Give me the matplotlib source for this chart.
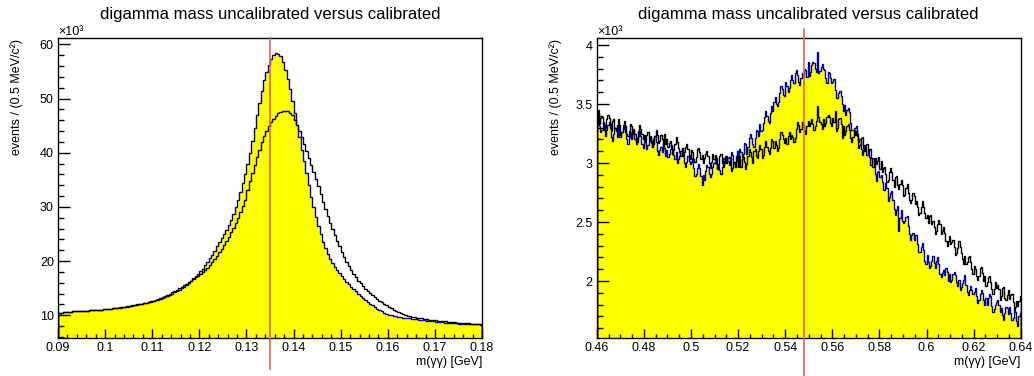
import matplotlib
matplotlib.use('Agg')
import matplotlib.pyplot as plt
from matplotlib.ticker import MultipleLocator, FuncFormatter
import numpy as np

plt.rcParams['font.family'] = ['Liberation Sans', 'DejaVu Sans']

# pi0 region: 0.09 - 0.18 GeV, 0.5 MeV bins, counts in thousands
pi0_lo, pi0_hi = 0.09, 0.18
pi0_calib = [
    10.5, 10.5, 10.55, 10.6, 10.6, 10.65, 10.7, 10.7, 10.75, 10.8,
    10.8, 10.85, 10.85, 10.9, 10.95, 10.95, 11.0, 11.0, 11.05, 11.1,
    11.1, 11.15, 11.2, 11.25, 11.3, 11.35, 11.4, 11.5, 11.55, 11.6,
    11.7, 11.75, 11.85, 11.9, 12.0, 12.1, 12.2, 12.3, 12.4, 12.5,
    12.6, 12.75, 12.9, 13.05, 13.2, 13.35, 13.55, 13.75, 13.95, 14.2,
    14.45, 14.7, 15.0, 15.3, 15.6, 16.0, 16.4, 16.8, 17.2, 17.6,
    18.1, 18.6, 19.2, 19.8, 20.5, 21.2, 21.9, 22.7, 23.6, 24.3,
    25.0, 25.8, 26.6, 27.6, 28.7, 29.9, 31.3, 32.8, 34.4, 36.0,
    38.0, 40.0, 42.2, 44.5, 46.9, 49.2, 51.4, 53.4, 55.0, 56.3,
    57.3, 58.0, 58.4, 58.3, 57.8, 56.8, 55.3, 53.6, 51.7, 49.6,
    47.4, 45.2, 42.9, 40.6, 38.4, 36.2, 34.0, 31.9, 30.0, 28.2,
    26.5, 25.0, 23.6, 22.4, 21.3, 20.4, 19.6, 18.9, 18.3, 17.8,
    17.2, 16.7, 16.2, 15.7, 15.3, 14.8, 14.4, 14.0, 13.6, 13.2,
    12.8, 12.5, 12.1, 11.8, 11.5, 11.2, 11.0, 10.75, 10.5, 10.3,
    10.1, 10.0, 9.9, 9.8, 9.7, 9.65, 9.55, 9.5, 9.45, 9.4,
    9.35, 9.3, 9.25, 9.2, 9.1, 9.05, 9.0, 8.95, 8.9, 8.85,
    8.8, 8.75, 8.75, 8.7, 8.65, 8.6, 8.6, 8.55, 8.5, 8.5,
    8.45, 8.45, 8.4, 8.4, 8.35, 8.35, 8.3, 8.3, 8.3, 8.25,
]
pi0_uncalib = [
    10.5, 10.5, 10.55, 10.6, 10.6, 10.65, 10.7, 10.7, 10.75, 10.8,
    10.8, 10.85, 10.85, 10.9, 10.95, 10.95, 11.0, 11.05, 11.05, 11.1,
    11.15, 11.2, 11.2, 11.25, 11.3, 11.4, 11.45, 11.5, 11.6, 11.65,
    11.7, 11.8, 11.9, 12.0, 12.05, 12.15, 12.25, 12.35, 12.5, 12.6,
    12.7, 12.85, 13.0, 13.2, 13.35, 13.55, 13.75, 13.95, 14.2, 14.45,
    14.7, 14.95, 15.2, 15.5, 15.8, 16.1, 16.4, 16.7, 17.0, 17.3,
    17.6, 18.0, 18.4, 18.8, 19.3, 19.8, 20.4, 21.0, 21.6, 22.3,
    23.0, 23.7, 24.5, 25.3, 26.2, 27.1, 28.0, 29.0, 30.1, 31.3,
    33.2, 34.7, 36.3, 37.8, 39.2, 40.6, 41.9, 43.1, 44.1, 44.9,
    45.6, 46.2, 46.8, 47.3, 47.6, 47.8, 47.8, 47.7, 47.4, 46.9,
    46.0, 45.1, 44.0, 42.9, 41.7, 40.4, 39.1, 37.8, 36.5, 35.1,
    33.8, 32.4, 31.0, 29.7, 28.4, 27.1, 25.9, 24.8, 23.7, 22.7,
    21.7, 20.8, 19.9, 19.1, 18.3, 17.6, 17.0, 16.4, 15.9, 15.4,
    14.9, 14.5, 14.1, 13.7, 13.3, 13.0, 12.7, 12.4, 12.1, 11.8,
    11.5, 11.25, 11.0, 10.8, 10.6, 10.4, 10.2, 10.05, 9.9, 9.8,
    9.7, 9.6, 9.5, 9.45, 9.4, 9.3, 9.25, 9.2, 9.15, 9.1,
    9.05, 9.0, 8.95, 8.9, 8.85, 8.8, 8.75, 8.7, 8.7, 8.65,
    8.6, 8.6, 8.55, 8.5, 8.5, 8.45, 8.45, 8.4, 8.4, 8.4,
]

# eta region: 0.46 - 0.64 GeV, 0.5 MeV bins, counts in thousands
eta_lo, eta_hi = 0.46, 0.64
eta_calib = [
    3.33, 3.37, 3.31, 3.26, 3.28, 3.35, 3.32, 3.23, 3.28, 3.32, 3.35, 3.30, 3.22, 3.19, 3.25, 3.30, 3.27, 3.22, 3.31, 3.22,
    3.22, 3.26, 3.29, 3.32, 3.26, 3.20, 3.16, 3.22, 3.26, 3.20, 3.26, 3.28, 3.20, 3.16, 3.18, 3.23, 3.27, 3.23, 3.16, 3.13,
    3.23, 3.18, 3.12, 3.15, 3.19, 3.23, 3.17, 3.14, 3.20, 3.23, 3.18, 3.10, 3.07, 3.11, 3.14, 3.09, 3.16, 3.13, 3.06, 3.11,
    3.05, 3.08, 3.12, 3.15, 3.12, 3.07, 3.03, 3.09, 3.00, 3.03, 3.06, 3.10, 3.13, 3.06, 3.00, 2.97, 3.01, 3.06, 3.02, 2.99,
    3.01, 3.04, 2.96, 2.89, 2.91, 2.96, 2.99, 2.96, 2.89, 2.81, 2.90, 2.86, 2.93, 2.98, 2.97, 2.91, 2.88, 2.91, 2.97, 3.00,
    3.03, 2.99, 2.95, 2.99, 2.94, 2.91, 2.97, 3.04, 3.03, 3.00, 3.06, 3.02, 2.98, 3.00, 3.09, 3.07, 3.00, 2.97, 3.06, 3.10,
    3.07, 3.12, 3.09, 3.05, 3.08, 3.17, 3.16, 3.08, 3.14, 3.21, 3.25, 3.21, 3.16, 3.14, 3.21, 3.28, 3.27, 3.23, 3.33, 3.27,
    3.28, 3.34, 3.39, 3.44, 3.40, 3.36, 3.34, 3.42, 3.48, 3.44, 3.52, 3.56, 3.50, 3.48, 3.52, 3.59, 3.65, 3.63, 3.58, 3.57,
    3.69, 3.65, 3.60, 3.64, 3.70, 3.75, 3.70, 3.68, 3.76, 3.79, 3.75, 3.69, 3.66, 3.72, 3.76, 3.73, 3.80, 3.79, 3.73, 3.86,
    3.74, 3.77, 3.83, 3.86, 3.85, 3.80, 3.77, 3.94, 3.76, 3.78, 3.81, 3.84, 3.80, 3.79, 3.72, 3.68, 3.77, 3.76, 3.72, 3.68,
    3.69, 3.71, 3.62, 3.55, 3.55, 3.59, 3.61, 3.57, 3.50, 3.44, 3.49, 3.41, 3.45, 3.47, 3.43, 3.34, 3.28, 3.28, 3.30, 3.30,
    3.31, 3.25, 3.18, 3.20, 3.12, 3.07, 3.11, 3.15, 3.12, 3.07, 3.11, 3.05, 2.98, 2.98, 3.04, 3.00, 2.91, 2.85, 2.92, 2.93,
    2.88, 2.90, 2.84, 2.77, 2.77, 2.83, 2.79, 2.68, 2.71, 2.75, 2.76, 2.69, 2.61, 2.56, 2.60, 2.64, 2.42, 2.53, 2.60, 2.51,
    2.49, 2.51, 2.54, 2.55, 2.47, 2.40, 2.35, 2.39, 2.41, 2.35, 2.39, 2.39, 2.31, 2.25, 2.25, 2.29, 2.32, 2.26, 2.17, 2.14,
    2.22, 2.16, 2.11, 2.13, 2.17, 2.21, 2.15, 2.11, 2.17, 2.20, 2.14, 2.06, 2.03, 2.07, 2.09, 2.05, 2.11, 2.08, 2.00, 2.06,
    1.99, 2.01, 2.06, 2.08, 2.05, 1.99, 1.96, 2.01, 1.92, 1.95, 1.98, 2.01, 2.05, 1.97, 1.91, 1.88, 1.92, 1.96, 1.92, 1.89,
    1.91, 1.94, 1.87, 1.81, 1.84, 1.89, 1.92, 1.90, 1.84, 1.80, 1.86, 1.80, 1.86, 1.89, 1.87, 1.79, 1.74, 1.76, 1.80, 1.82,
    1.84, 1.80, 1.74, 1.77, 1.71, 1.67, 1.73, 1.78, 1.77, 1.72, 1.78, 1.73, 1.67, 1.69, 1.76, 1.74, 1.66, 1.62, 1.70, 1.73,
]
eta_uncalib = [
    3.35, 3.45, 3.33, 3.38, 3.39, 3.34, 3.28, 3.30, 3.37, 3.41, 3.38, 3.33, 3.27, 3.36, 3.37, 3.30, 3.28, 3.32, 3.37, 3.32,
    3.24, 3.26, 3.32, 3.36, 3.31, 3.25, 3.23, 3.27, 3.33, 3.31, 3.25, 3.29, 3.25, 3.18, 3.21, 3.27, 3.32, 3.29, 3.25, 3.20,
    3.24, 3.18, 3.24, 3.26, 3.19, 3.22, 3.19, 3.14, 3.16, 3.23, 3.28, 3.24, 3.17, 3.19, 3.24, 3.20, 3.14, 3.25, 3.16, 3.20,
    3.14, 3.17, 3.19, 3.14, 3.08, 3.11, 3.16, 3.22, 3.18, 3.13, 3.09, 3.06, 3.13, 3.07, 3.09, 3.14, 3.16, 3.12, 3.07, 3.03,
    3.11, 3.09, 3.03, 3.01, 3.05, 3.12, 3.13, 3.09, 3.03, 3.07, 3.00, 3.04, 3.08, 3.10, 3.06, 3.00, 2.96, 3.01, 3.08, 3.03,
    3.07, 3.04, 2.95, 2.99, 3.06, 3.08, 3.00, 2.97, 3.02, 3.06, 3.00, 3.04, 3.05, 2.99, 2.93, 2.96, 3.01, 2.97, 3.02, 3.06,
    2.97, 3.06, 2.97, 3.03, 3.05, 3.01, 2.95, 2.99, 3.06, 3.12, 3.09, 3.05, 3.00, 3.10, 3.12, 3.06, 3.04, 3.10, 3.15, 3.12,
    3.04, 3.07, 3.14, 3.19, 3.14, 3.10, 3.08, 3.13, 3.20, 3.19, 3.13, 3.19, 3.15, 3.10, 3.13, 3.20, 3.26, 3.24, 3.20, 3.17,
    3.21, 3.16, 3.23, 3.26, 3.20, 3.24, 3.22, 3.18, 3.21, 3.29, 3.35, 3.32, 3.26, 3.29, 3.35, 3.32, 3.27, 3.25, 3.31, 3.36,
    3.31, 3.34, 3.37, 3.33, 3.28, 3.31, 3.36, 3.48, 3.39, 3.35, 3.33, 3.29, 3.37, 3.31, 3.34, 3.39, 3.41, 3.39, 3.34, 3.31,
    3.38, 3.35, 3.44, 3.27, 3.30, 3.37, 3.38, 3.33, 3.21, 3.31, 3.24, 3.27, 3.31, 3.33, 3.28, 3.21, 3.18, 3.22, 3.28, 3.24,
    3.27, 3.23, 3.13, 3.15, 3.21, 3.22, 3.13, 3.10, 3.13, 3.16, 3.09, 3.12, 3.12, 3.04, 2.97, 2.99, 3.04, 2.99, 3.02, 3.05,
    2.95, 3.02, 2.92, 2.96, 2.97, 2.91, 2.84, 2.86, 2.92, 2.96, 2.92, 2.86, 2.80, 2.88, 2.89, 2.81, 2.78, 2.82, 2.86, 2.81,
    2.72, 2.73, 2.79, 2.82, 2.75, 2.69, 2.66, 2.69, 2.75, 2.72, 2.65, 2.68, 2.63, 2.56, 2.58, 2.63, 2.68, 2.63, 2.58, 2.53,
    2.56, 2.49, 2.55, 2.56, 2.48, 2.51, 2.46, 2.40, 2.42, 2.48, 2.52, 2.48, 2.40, 2.42, 2.46, 2.41, 2.34, 2.30, 2.34, 2.38,
    2.31, 2.33, 2.35, 2.29, 2.22, 2.24, 2.28, 2.34, 2.29, 2.24, 2.19, 2.14, 2.21, 2.14, 2.16, 2.20, 2.21, 2.16, 2.10, 2.06,
    2.13, 2.10, 2.04, 2.01, 2.04, 2.11, 2.12, 2.07, 2.00, 2.04, 1.96, 1.99, 2.03, 2.04, 1.99, 1.93, 1.89, 1.93, 1.99, 1.94,
    1.97, 1.93, 1.84, 1.87, 1.94, 1.95, 1.86, 1.84, 1.88, 1.92, 1.85, 1.88, 1.89, 1.82, 1.76, 1.78, 1.83, 1.79, 1.83, 1.87,
]

pi0_mass = 0.135
eta_mass = 0.5479

title = 'digamma mass uncalibrated versus calibrated'
ylab = 'events / (0.5 MeV/c²)'
xlab = 'm(γγ) [GeV]'


def draw(ax, lo, hi, calib, uncalib, mass, ylim, xmaj, xmin, ymaj, ymin, redspan):
    edges = np.linspace(lo, hi, len(calib) + 1)
    ax.stairs(calib, edges, fill=True, color='#ffff00', baseline=0)
    ax.stairs(calib, edges, color='#0000a8', lw=1.0)
    ax.stairs(uncalib, edges, color='black', lw=1.0)
    ax.set_xlim(lo, hi)
    ax.set_ylim(*ylim)
    ax.axvline(mass, ymin=redspan[0], ymax=redspan[1], color='#e06464', lw=1.2,
               clip_on=False, zorder=5)
    ax.xaxis.set_major_locator(MultipleLocator(xmaj))
    ax.xaxis.set_minor_locator(MultipleLocator(xmin))
    ax.yaxis.set_major_locator(MultipleLocator(ymaj))
    ax.yaxis.set_minor_locator(MultipleLocator(ymin))
    ax.xaxis.set_major_formatter(FuncFormatter(lambda v, p: '%g' % round(v, 4)))
    ax.yaxis.set_major_formatter(FuncFormatter(lambda v, p: '%g' % round(v, 4)))
    ax.tick_params(axis='y', which='major', direction='in', length=8.5, width=1, labelsize=9, pad=3)
    ax.tick_params(axis='y', which='minor', direction='in', length=4.3, width=1)
    ax.tick_params(axis='x', which='major', direction='in', length=6.5, width=1, labelsize=9, pad=3)
    ax.tick_params(axis='x', which='minor', direction='in', length=3.2, width=1)
    for s in ax.spines.values():
        s.set_linewidth(1.0)
    ax.set_ylabel(ylab, fontsize=9, loc='top')
    ax.yaxis.set_label_coords(-0.083, 0.995)
    ax.set_xlabel(xlab, fontsize=9, loc='right')
    ax.xaxis.set_label_coords(1.0, -0.06)
    ax.text(0.0, 1.0, '×10³', transform=ax.transAxes, ha='left', va='bottom', fontsize=9)
    ax.set_title(title, fontsize=12, pad=13.5)


fig = plt.figure(figsize=(10.34, 3.76), dpi=100)
ax1 = fig.add_axes([0.0561, 0.1011, 0.4101, 0.7979])
ax2 = fig.add_axes([0.5771, 0.1011, 0.4101, 0.7979])

draw(ax1, pi0_lo, pi0_hi, pi0_calib, pi0_uncalib, pi0_mass, (5.8, 61.2),
     0.01, 0.002, 10, 2, (-0.103, 1.0))
draw(ax2, eta_lo, eta_hi, eta_calib, eta_uncalib, eta_mass, (1.517, 4.06),
     0.02, 0.005, 0.5, 0.1, (-0.127, 1.03))

fig.savefig('out.png', dpi=100)
